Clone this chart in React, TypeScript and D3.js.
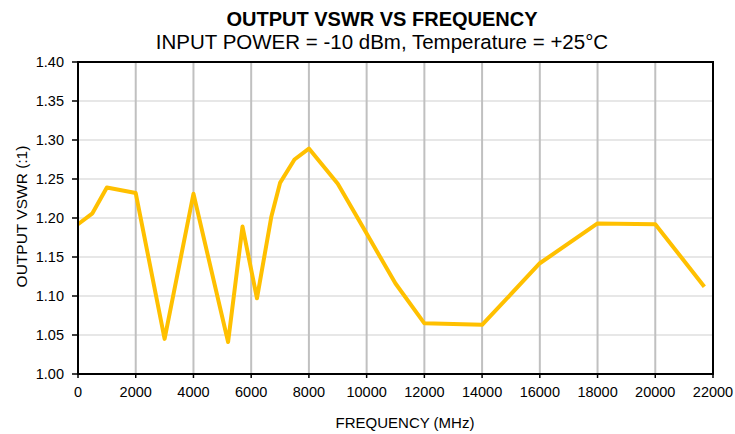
import React from 'react';
import * as d3 from 'd3';

const freqs = [0, 500, 1000, 2000, 3000, 4000, 5200, 5700, 6200, 6700, 7000, 7500, 8000, 9000, 10000, 11000, 12000, 14000, 16000, 18000, 20000, 21700];
const vswr = [1.192, 1.206, 1.239, 1.232, 1.045, 1.231, 1.041, 1.189, 1.097, 1.202, 1.245, 1.275, 1.289, 1.244, 1.180, 1.116, 1.065, 1.063, 1.142, 1.193, 1.192, 1.112];
const xTicks = d3.range(0, 22001, 2000);
const yTicks = d3.range(0, 9).map(i => 1 + i * 0.05);

const W = 735, H = 434;
const left = 78, right = 713, top = 62, bottom = 374;
const font = 'Liberation Sans, Arial, sans-serif';

export default function App() {
  const x = d3.scaleLinear().domain([0, 22000]).range([left, right]);
  const y = d3.scaleLinear().domain([1.0, 1.4]).range([bottom, top]);
  const line = d3.line<number>().x((d, i) => x(freqs[i])).y(d => y(d));

  return (
    <svg width={W} height={H} style={{position: 'absolute', left: 0, top: 0}} fontFamily={font}>
      <rect width={W} height={H} fill="#fff" />
      <text x={382} y={26} textAnchor="middle" fontSize={20} fontWeight="bold">OUTPUT VSWR VS FREQUENCY</text>
      <text x={382} y={49} textAnchor="middle" fontSize={20.5}>INPUT POWER = -10 dBm, Temperature = +25°C</text>

      {yTicks.slice(1, -1).map(t => (
        <line key={'gy' + t} x1={left} x2={right} y1={y(t)} y2={y(t)} stroke="#d0d0d0" strokeWidth={1.2} />
      ))}
      {xTicks.slice(1, -1).map(t => (
        <line key={'gx' + t} x1={x(t)} x2={x(t)} y1={top} y2={bottom} stroke="#c0c0c0" strokeWidth={2} />
      ))}

      <path d={line(vswr) || ''} fill="none" stroke="#FFC000" strokeWidth={4} strokeLinejoin="round" />

      <rect x={left} y={top} width={right - left} height={bottom - top} fill="none" stroke="#000" strokeWidth={2} />

      {yTicks.map(t => (
        <g key={'ty' + t}>
          <line x1={left - 6} x2={left} y1={y(t)} y2={y(t)} stroke="#000" strokeWidth={1.5} />
          <text x={64} y={y(t) + 5} textAnchor="end" fontSize={14.5}>{t.toFixed(2)}</text>
        </g>
      ))}
      {xTicks.map(t => (
        <g key={'tx' + t}>
          <line x1={x(t)} x2={x(t)} y1={bottom} y2={bottom + 4} stroke="#000" strokeWidth={1.5} />
          <text x={x(t)} y={397} textAnchor="middle" fontSize={14.5}>{t}</text>
        </g>
      ))}

      <text x={405} y={428} textAnchor="middle" fontSize={15}>FREQUENCY (MHz)</text>
      <text transform={`translate(27,216.5) rotate(-90)`} textAnchor="middle" fontSize={15.5}>OUTPUT VSWR (:1)</text>
    </svg>
  );
}
